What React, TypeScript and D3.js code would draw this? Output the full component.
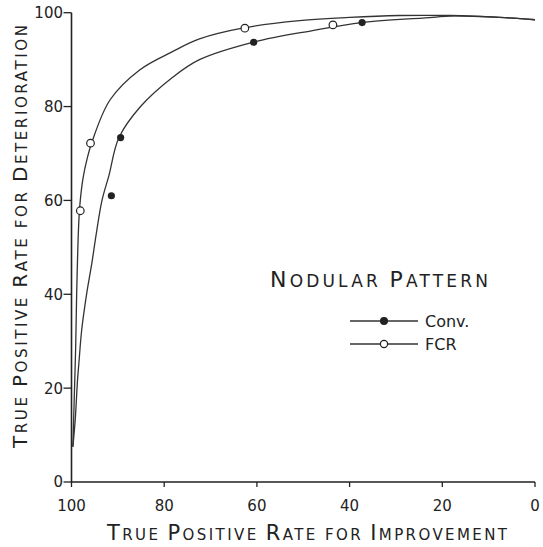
import React from "react";
import * as d3 from "d3";

// curve samples: [improvement %, deterioration %]
const fcrCurve: [number, number][] = [
  [99.7, 7.5], [99.4, 18.1], [99.1, 28.8], [98.9, 39.4], [98.5, 53.7],
  [98.2, 59.0], [97.5, 64.8], [96.6, 69.0], [95.6, 72.4], [91.7, 81.4],
  [85.3, 87.8], [78.2, 91.7], [72.4, 94.4], [62.6, 96.8], [50.8, 98.3],
  [40.0, 99.0], [29.2, 99.4], [18.4, 99.4], [7.6, 99.0], [0, 98.5],
];
const convCurve: [number, number][] = [
  [99.7, 7.5], [99.2, 13.2], [98.7, 21.7], [98.4, 25.4], [97.8, 32.4],
  [96.7, 40.3], [95.6, 46.7], [94.7, 52.6], [93.4, 60.1], [91.9, 65.4],
  [89.8, 73.3], [85.2, 79.9], [78.1, 86.3], [72.4, 90.0], [60.5, 93.8],
  [48.0, 96.2], [37.4, 97.9], [22.0, 99.0], [18.4, 99.3], [7.6, 99.0],
  [0, 98.5],
];
// observed points
const fcrPoints: [number, number][] = [
  [98.1, 57.8], [95.9, 72.2], [62.6, 96.7], [43.6, 97.4],
];
const convPoints: [number, number][] = [
  [91.4, 61.0], [89.4, 73.4], [60.7, 93.7], [37.3, 97.9],
];
const xTicks = [100, 80, 60, 40, 20, 0];
const yTicks = [0, 20, 40, 60, 80, 100];
const xTitle = ["TRUE", "POSITIVE", "RATE", "for", "IMPROVEMENT"];
const yTitle = ["TRUE", "POSITIVE", "RATE", "for", "DETERIORATION"];
const panelTitle = ["NODULAR", "PATTERN"];
const legendItems = [
  { label: "Conv.", filled: true },
  { label: "FCR", filled: false },
];

const ink = "#222";
const font = "'DejaVu Sans', sans-serif";

function SmallCaps({ words, big, small }: { words: string[]; big: number; small: number }) {
  const parts: React.ReactNode[] = [];
  words.forEach((w, i) => {
    const lower = w === w.toLowerCase();
    if (i > 0) parts.push(<tspan key={"s" + i} fontSize={small}>{"  "}</tspan>);
    if (lower) {
      parts.push(<tspan key={"w" + i} fontSize={small}>{w.toUpperCase()}</tspan>);
    } else {
      parts.push(<tspan key={"b" + i} fontSize={big}>{w[0]}</tspan>);
      parts.push(<tspan key={"r" + i} fontSize={small}>{w.slice(1)}</tspan>);
    }
  });
  return <>{parts}</>;
}

export default function App() {
  const width = 543;
  const height = 547;
  const x = d3.scaleLinear().domain([100, 0]).range([71.5, 535]);
  const y = d3.scaleLinear().domain([0, 100]).range([482, 12.7]);
  const line = d3
    .line<[number, number]>()
    .x((d) => x(d[0]))
    .y((d) => y(d[1]))
    .curve(d3.curveCatmullRom.alpha(0.5));

  return (
    <svg
      width={width}
      height={height}
      style={{ position: "absolute", left: 0, top: 0, background: "#fff" }}
      fontFamily={font}
    >
      <rect width={width} height={height} fill="#fff" />
      {/* axes */}
      <path
        d={`M${x(100)},${y(100)}V${y(0)}H${x(0)}`}
        fill="none"
        stroke={ink}
        strokeWidth={1.6}
      />
      {yTicks.map((t) => (
        <g key={"y" + t}>
          <line x1={x(100) - 8} x2={x(100)} y1={y(t)} y2={y(t)} stroke={ink} strokeWidth={1.3} />
          <text x={63} y={y(t)} dy="0.36em" textAnchor="end" fontSize={15} fill={ink}>
            {t}
          </text>
        </g>
      ))}
      {xTicks.map((t) => (
        <g key={"x" + t}>
          <line x1={x(t)} x2={x(t)} y1={y(0)} y2={y(0) + 5} stroke={ink} strokeWidth={1.3} />
          <text x={x(t)} y={511} textAnchor="middle" fontSize={15} fill={ink}>
            {t}
          </text>
        </g>
      ))}
      {/* curves */}
      <path d={line(fcrCurve) || ""} fill="none" stroke="#333" strokeWidth={1.3} />
      <path d={line(convCurve) || ""} fill="none" stroke="#333" strokeWidth={1.3} />
      {convPoints.map((d, i) => (
        <circle key={"c" + i} cx={x(d[0])} cy={y(d[1])} r={3.6} fill={ink} />
      ))}
      {fcrPoints.map((d, i) => (
        <circle key={"f" + i} cx={x(d[0])} cy={y(d[1])} r={3.8} fill="#fff" stroke={ink} strokeWidth={1.2} />
      ))}
      {/* axis titles */}
      <text x={107} y={540} fill={ink} textLength={400} lengthAdjust="spacing">
        <SmallCaps words={xTitle} big={21} small={15} />
      </text>
      <text
        transform={`translate(27,448) rotate(-90)`}
        fill={ink}
        textLength={423}
        lengthAdjust="spacing"
      >
        <SmallCaps words={yTitle} big={20} small={15} />
      </text>
      {/* panel title and legend */}
      <text x={270} y={287} fill={ink} textLength={218} lengthAdjust="spacing">
        <SmallCaps words={panelTitle} big={22} small={17} />
      </text>
      {legendItems.map((it, i) => {
        const ly = 321 + i * 23;
        return (
          <g key={it.label}>
            <line x1={350} x2={418} y1={ly} y2={ly} stroke="#333" strokeWidth={1.3} />
            <circle
              cx={384}
              cy={ly}
              r={it.filled ? 3.4 : 3.6}
              fill={it.filled ? ink : "#fff"}
              stroke={ink}
              strokeWidth={1.2}
            />
            <text x={425} y={ly + 6} fontSize={16} fill={ink}>
              {it.label}
            </text>
          </g>
        );
      })}
    </svg>
  );
}
